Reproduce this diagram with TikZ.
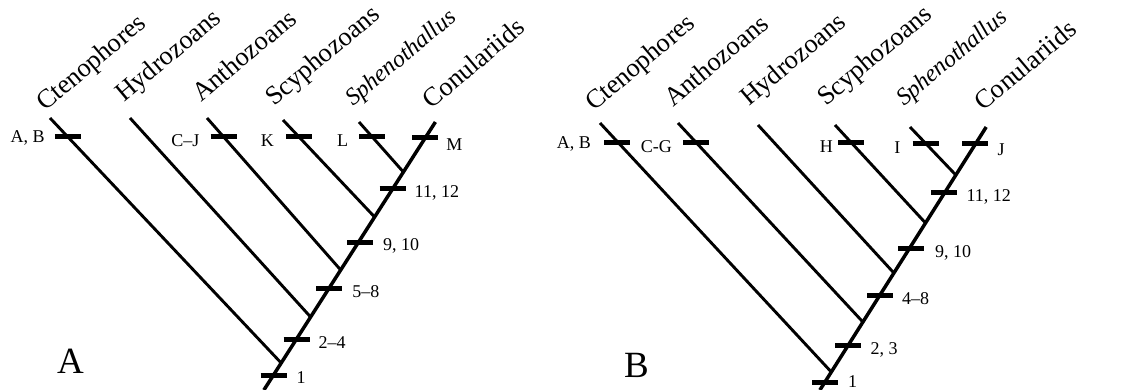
\documentclass[tikz,border=0pt]{standalone}
\usepackage{fontspec}
\setmainfont{Liberation Serif}
\usetikzlibrary{calc}
\tikzset{
  branch/.style={line width=2.9pt},
  trunk/.style={line width=3.5pt},
  tk/.pic={\draw[line width=5pt] (-13,0) -- (13,0);},
  taxon/.style={anchor=base west, rotate=40, inner sep=0pt, font=\fontsize{26.5}{30}\selectfont},
  itaxon/.style={taxon, font=\fontsize{24}{28}\selectfont\itshape},
  lab/.style={inner sep=0pt, font=\fontsize{18}{21}\selectfont},
  labL/.style={lab, anchor=base east},
  labR/.style={lab, anchor=base west},
  panel/.style={anchor=base west, inner sep=0pt, font=\fontsize{37}{40}\selectfont}
}
\begin{document}
\begin{tikzpicture}[x=1pt,y=-1pt]
\useasboundingbox (0,0) rectangle (1124,390);
% ---------------- Tree A ----------------
\coordinate (aCt) at (50,118);
\coordinate (aHy) at (130,118);
\coordinate (aAn) at (207,118);
\coordinate (aSc) at (283,120);
\coordinate (aSp) at (359,122);
\coordinate (aCo) at (435.4,122);
\coordinate (aR) at (263.9,390);
\coordinate (aJCt) at (281.2,363);
\coordinate (aJHy) at (310.6,317);
\coordinate (aJAn) at (340.7,270);
\coordinate (aJSc) at (374.6,217);
\coordinate (aJSp) at (403.4,172);
\draw[trunk] (aR) -- (aCo);
\draw[branch] (aCt) -- (aJCt);
\draw[branch] (aHy) -- (aJHy);
\draw[branch] (aAn) -- (aJAn);
\draw[branch] (aSc) -- (aJSc);
\draw[branch] (aSp) -- (aJSp);
\node[taxon] (aLCt) at ($(aCt)+(-5,-6)$) {Ctenophores};
\node[taxon] (aLHy) at ($(aHy)+(-6,-15)$) {Hydrozoans};
\node[taxon] (aLAn) at ($(aAn)+(-6,-15)$) {Anthozoans};
\node[taxon] (aLSc) at ($(aSc)+(-9,-13)$) {Scyphozoans};
\node[itaxon] (aLSp) at ($(aSp)+(-6,-15)$) {Sphenothallus};
\node[taxon] (aLCo) at ($(aCo)+(-4,-12)$) {Conulariids};
% ticks A
\coordinate (aTAB) at (67.9,137);
\coordinate (aTCJ) at (223.7,137);
\coordinate (aTK) at (299,137);
\coordinate (aTL) at (372.3,137);
\coordinate (aTM) at (425.2,138);
\coordinate (aT1112) at (392.5,189);
\coordinate (aT910) at (360,242);
\coordinate (aT58) at (329.2,288);
\coordinate (aT24) at (296.5,339);
\coordinate (aT1) at (273.5,375);
\foreach \t in {aTAB,aTCJ,aTK,aTL,aTM,aT1112,aT910,aT58,aT24,aT1} \pic at (\t) {tk};
\node[labL] (aLAB) at ($(aTAB)+(-23,6)$) {A, B};
\node[labL] (aLCJ) at ($(aTCJ)+(-24,10)$) {C--J};
\node[labL] (aLK) at ($(aTK)+(-25,10)$) {K};
\node[labL] (aLL) at ($(aTL)+(-24,10)$) {L};
\node[labR] (aLM) at ($(aTM)+(21,13)$) {M};
\node[labR] (aL1112) at ($(aT1112)+(22,8)$) {11, 12};
\node[labR] (aL910) at ($(aT910)+(23,9)$) {9, 10};
\node[labR] (aL58) at ($(aT58)+(23,9)$) {5--8};
\node[labR] (aL24) at ($(aT24)+(22,9)$) {2--4};
\node[labR] (aL1) at ($(aT1)+(23,8)$) {1};
\node[panel] (aPanel) at (57,373) {A};
% ---------------- Tree B ----------------
\coordinate (bCt) at (600,123);
\coordinate (bAn) at (678,123);
\coordinate (bHy) at (758,125);
\coordinate (bSc) at (835,125);
\coordinate (bSp) at (910,127);
\coordinate (bCo) at (986.2,127);
\coordinate (bR) at (819.9,390);
\coordinate (bJCt) at (831.3,372);
\coordinate (bJAn) at (862.9,322);
\coordinate (bJHy) at (893.9,273);
\coordinate (bJSc) at (925.5,223);
\coordinate (bJSp) at (955.8,175);
\draw[trunk] (bR) -- (bCo);
\draw[branch] (bCt) -- (bJCt);
\draw[branch] (bAn) -- (bJAn);
\draw[branch] (bHy) -- (bJHy);
\draw[branch] (bSc) -- (bJSc);
\draw[branch] (bSp) -- (bJSp);
\node[taxon] (bLCt) at ($(bCt)+(-6,-11)$) {Ctenophores};
\node[taxon] (bLAn) at ($(bAn)+(-5,-15)$) {Anthozoans};
\node[taxon] (bLHy) at ($(bHy)+(-9,-18)$) {Hydrozoans};
\node[taxon] (bLSc) at ($(bSc)+(-9,-18)$) {Scyphozoans};
\node[itaxon] (bLSp) at ($(bSp)+(-6,-20)$) {Sphenothallus};
\node[taxon] (bLCo) at ($(bCo)+(-3,-15)$) {Conulariids};
% ticks B
\coordinate (bTAB) at (617,143);
\coordinate (bTCG) at (696,143);
\coordinate (bTH) at (851,143);
\coordinate (bTI) at (925.5,144);
\coordinate (bTJ) at (975.4,144);
\coordinate (bT1112) at (944.4,193);
\coordinate (bT910) at (911,248);
\coordinate (bT48) at (880,295);
\coordinate (bT23) at (848.4,345);
\coordinate (bT1) at (825,382);
\foreach \t in {bTAB,bTCG,bTH,bTI,bTJ,bT1112,bT910,bT48,bT23,bT1} \pic at (\t) {tk};
\node[labL] (bLAB) at ($(bTAB)+(-26,6)$) {A, B};
\node[labL] (bLCG) at ($(bTCG)+(-24,10)$) {C-G};
\node[labL] (bLH) at ($(bTH)+(-18,10)$) {H};
\node[labL] (bLI) at ($(bTI)+(-25,10)$) {I};
\node[labR] (bLJ) at ($(bTJ)+(22,12)$) {J};
\node[labR] (bL1112) at ($(bT1112)+(22,8)$) {11, 12};
\node[labR] (bL910) at ($(bT910)+(24,9)$) {9, 10};
\node[labR] (bL48) at ($(bT48)+(22,9)$) {4--8};
\node[labR] (bL23) at ($(bT23)+(22,9)$) {2, 3};
\node[labR] (bL1) at ($(bT1)+(23,5)$) {1};
\node[panel] (bPanel) at (624,377) {B};
\end{tikzpicture}
\end{document}
